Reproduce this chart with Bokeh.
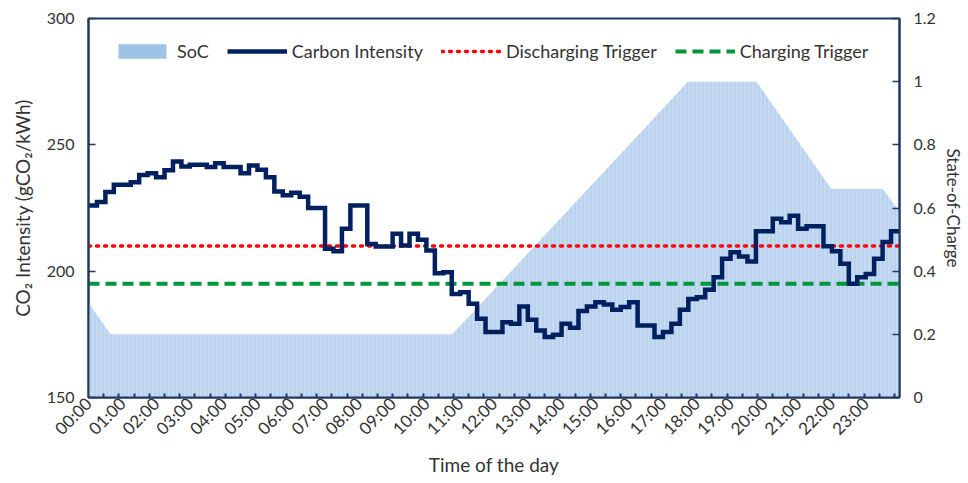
import numpy as np
from bokeh.plotting import figure
from bokeh.models import Range1d, LinearAxis, FixedTicker, Legend, LegendItem
from bokeh.embed import file_html
from bokeh.resources import INLINE

# ---- data ----
# carbon intensity, 15-minute steps starting 00:00 (gCO2/kWh)
ci_values = [
    226.0, 227.4, 231.3, 234.2, 234.2, 235.2, 238.1, 238.8,
    237.2, 239.9, 243.4, 241.4, 242.1, 242.1, 241.2, 242.7,
    241.2, 241.2, 238.8, 241.8, 240.1, 237.2, 231.5, 230.0,
    231.0, 229.5, 225.0, 225.0, 208.9, 207.9, 216.8, 226.0,
    226.0, 210.8, 209.8, 209.8, 214.8, 210.2, 214.8, 212.4,
    208.2, 199.2, 199.6, 191.0, 191.7, 187.1, 181.2, 175.9,
    175.9, 179.8, 179.2, 186.0, 180.8, 176.5, 173.9, 174.8,
    179.2, 177.6, 184.2, 186.0, 187.7, 186.8, 184.7, 185.8,
    187.7, 178.5, 178.5, 173.9, 175.9, 179.2, 184.7, 189.0,
    189.7, 192.6, 197.6, 204.9, 207.5, 205.8, 203.8, 215.8,
    215.8, 220.7, 219.4, 221.9, 216.8, 217.8, 217.8, 209.9,
    207.9, 202.9, 195.0, 197.6, 198.9, 204.9, 211.5, 215.8,
]
ci_step_hours = 0.25

# state of charge breakpoints (hour, SoC)
soc_hours = [0.0, 0.65, 10.77, 17.74, 19.77, 21.98, 23.5, 24.0]
soc_values = [0.30, 0.20, 0.20, 1.00, 1.00, 0.66, 0.66, 0.59]

discharge_trigger = 210
charge_trigger = 195

hour_ticks = list(range(24))
hour_labels = ["%02d:00" % h for h in hour_ticks]
ci_ticks = [150, 200, 250, 300]
soc_ticks = [0, 0.2, 0.4, 0.6, 0.8, 1, 1.2]
soc_tick_labels = ["0", "0.2", "0.4", "0.6", "0.8", "1", "1.2"]
minor_step = 0.45

x_start, x_end = 0, 24
ci_min, ci_max = 150, 300
soc_min, soc_max = 0, 1.2

FONT = "Lato"
TXT = "#333333"
AXC = "#1F3864"

p = figure(width=966, height=481, output_backend="svg", toolbar_location=None,
           x_range=Range1d(x_start, x_end), y_range=Range1d(ci_min, ci_max),
           min_border_left=88, min_border_right=67, min_border_top=18,
           min_border_bottom=84)
p.extra_y_ranges = {"soc": Range1d(soc_min, soc_max)}
p.grid.visible = False
p.outline_line_color = AXC
p.outline_line_width = 2
p.background_fill_color = "white"
p.border_fill_color = "white"

# SoC area
soc_r = p.varea(x=soc_hours, y1=[0] * len(soc_hours), y2=soc_values,
                y_range_name="soc", fill_color="#c6daf1",
                hatch_pattern="|", hatch_color="#a9c6e9", hatch_scale=4,
                hatch_weight=1, hatch_alpha=0.8)
# legend swatch proxy (zero-area)
soc_proxy = p.varea(x=[x_start, x_start], y1=[soc_min, soc_min], y2=[soc_min, soc_min],
                    fill_color="#9DC3E6", y_range_name="soc")

# trigger lines
dis_r = p.line(x=[x_start, x_end], y=[discharge_trigger] * 2, line_color="#FF0000",
               line_width=3.5, line_dash="2 6", line_cap="round")
chg_r = p.line(x=[x_start, x_end], y=[charge_trigger] * 2, line_color="#00963C",
               line_width=4, line_dash="11 6")

# carbon intensity step line
ci_x = [i * ci_step_hours for i in range(len(ci_values))] + [x_end]
ci_y = ci_values + [ci_values[-1]]
ci_r = p.step(x=ci_x, y=ci_y, mode="after", line_color="#002060", line_width=4.5,
              line_join="miter")

# axes
xa = p.xaxis[0]
xa.ticker = FixedTicker(ticks=hour_ticks,
                        minor_ticks=[k * minor_step for k in range(1, 54)])
xa.major_label_overrides = {t: l for t, l in zip(hour_ticks, hour_labels)}
xa.major_label_orientation = np.pi / 4
xa.major_tick_in = 0
xa.major_tick_out = 0
xa.minor_tick_in = 4
xa.minor_tick_out = 0
xa.minor_tick_line_color = AXC
xa.minor_tick_line_width = 2
xa.axis_line_color = AXC
xa.axis_line_width = 2
xa.axis_label = "Time of the day"
xa.major_label_standoff = 3

ya = p.yaxis[0]
ya.ticker = FixedTicker(ticks=ci_ticks)
ya.axis_label = "CO\u2082 Intensity (gCO\u2082/kWh)"
ya.major_tick_in = 7
ya.major_tick_out = 0
ya.minor_tick_in = 0
ya.minor_tick_out = 0
ya.major_tick_line_color = AXC
ya.major_tick_line_width = 1.5
ya.axis_line_color = AXC
ya.axis_line_width = 2
ya.major_label_standoff = 14

ra = LinearAxis(y_range_name="soc", axis_label="State-of-Charge")
ra.ticker = FixedTicker(ticks=soc_ticks)
ra.major_label_overrides = {t: l for t, l in zip(soc_ticks, soc_tick_labels)}
ra.major_tick_in = 7
ra.major_tick_out = 0
ra.minor_tick_in = 0
ra.minor_tick_out = 0
ra.major_tick_line_color = AXC
ra.major_tick_line_width = 1.5
ra.axis_line_color = AXC
ra.axis_line_width = 2
ra.major_label_standoff = 14
p.add_layout(ra, "right")

for ax in (xa, ya, ra):
    ax.major_label_text_font = FONT
    ax.major_label_text_font_size = "16px"
    ax.major_label_text_color = TXT
    ax.axis_label_text_font = FONT
    ax.axis_label_text_font_size = "19px"
    ax.axis_label_text_font_style = "normal"
    ax.axis_label_text_color = TXT
xa.major_label_text_font_size = "17px"
ra.axis_label_text_font_size = "17px"
ya.axis_label_standoff = 10
ra.axis_label_standoff = 4
xa.axis_label_standoff = 4

legend = Legend(items=[
    LegendItem(label="SoC", renderers=[soc_proxy]),
    LegendItem(label="Carbon Intensity", renderers=[ci_r]),
    LegendItem(label="Discharging Trigger", renderers=[dis_r]),
    LegendItem(label="Charging Trigger", renderers=[chg_r]),
], orientation="horizontal", location=(24, 335))
legend.glyph_width = 60
legend.glyph_height = 18
legend.label_standoff = 5
legend.spacing = 18
legend.padding = 4
legend.margin = 0
legend.border_line_color = None
legend.background_fill_alpha = 0
legend.label_text_font = FONT
legend.label_text_font_size = "18px"
legend.label_text_color = TXT
p.add_layout(legend, "center")

open("out.html", "w").write(file_html(p, INLINE))
